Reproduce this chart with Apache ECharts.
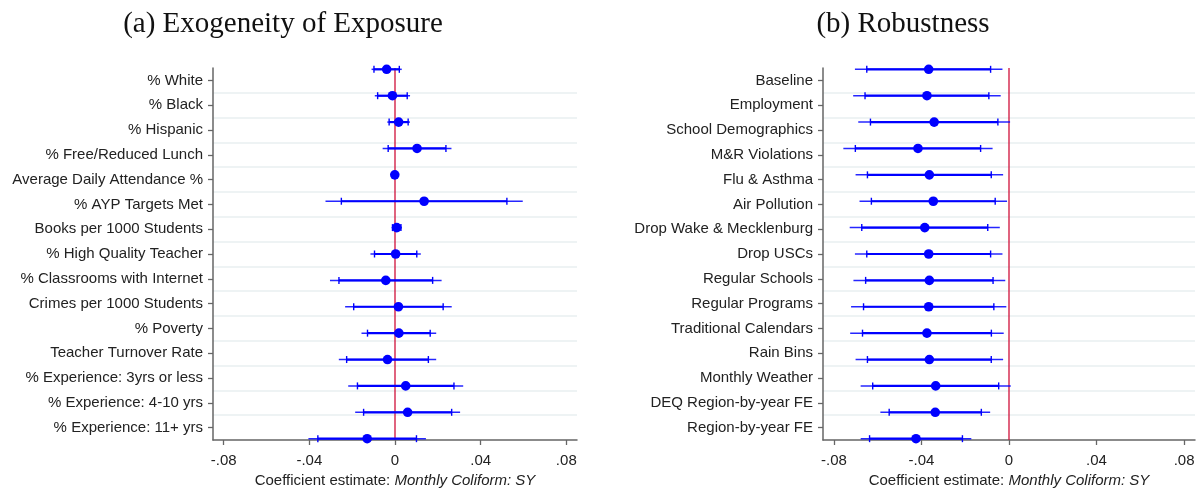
<!DOCTYPE html>
<html>
<head>
<meta charset="utf-8">
<script src="https://cdn.jsdelivr.net/npm/echarts@6/dist/echarts.min.js"></script>
<style>html,body{margin:0;padding:0;background:#fff}#c{width:1200px;height:489px}</style>
</head>
<body>
<div id="c"></div>
<script>
// Panel (a): Exogeneity of Exposure
const catsA = ['% White','% Black','% Hispanic','% Free/Reduced Lunch','Average Daily Attendance %','% AYP Targets Met','Books per 1000 Students','% High Quality Teacher','% Classrooms with Internet','Crimes per 1000 Students','% Poverty','Teacher Turnover Rate','% Experience: 3yrs or less','% Experience: 4-10 yrs','% Experience: 11+ yrs'];
const coefA = [-0.0039,-0.0012,0.0017,0.0103,-0.0001,0.0136,0.0008,0.0003,-0.0043,0.0016,0.0018,-0.0035,0.0050,0.0059,-0.0130];
const seA   = [0.0036,0.0042,0.0027,0.0082,0.0004,0.0235,0.0012,0.0060,0.0133,0.0127,0.0089,0.0116,0.0137,0.0125,0.0140];
// Panel (b): Robustness
const catsB = ['Baseline','Employment','School Demographics','M&R Violations','Flu & Asthma','Air Pollution','Drop Wake & Mecklenburg','Drop USCs','Regular Schools','Regular Programs','Traditional Calendars','Rain Bins','Monthly Weather','DEQ Region-by-year FE','Region-by-year FE'];
const coefB = [-0.0367,-0.0375,-0.0342,-0.0416,-0.0364,-0.0346,-0.0385,-0.0367,-0.0364,-0.0367,-0.0375,-0.0364,-0.0335,-0.0337,-0.0425];
const seB   = [0.0172,0.0172,0.0177,0.0174,0.0172,0.0172,0.0175,0.0172,0.0177,0.0181,0.0179,0.0172,0.0175,0.0128,0.0129];
const xTicks = [-0.08,-0.04,0,0.04,0.08];
const xTickLabels = ['-.08','-.04','0','.04','.08'];
const titles = ['(a) Exogeneity of Exposure','(b) Robustness'];

const chart = echarts.init(document.getElementById('c'));
const sans = 'Liberation Sans, Arial, sans-serif';
const blue = '#0000ff';

function renderItem(params, api){
  const b = api.value(0), i = api.value(1), se = api.value(2);
  const p = api.coord([b, i]);
  const l95 = api.coord([b - 1.96*se, i]), h95 = api.coord([b + 1.96*se, i]);
  const l90 = api.coord([b - 1.645*se, i]), h90 = api.coord([b + 1.645*se, i]);
  const y = p[1];
  return {type:'group', children:[
    {type:'line', shape:{x1:l95[0], y1:y, x2:h95[0], y2:y}, style:{stroke:blue, lineWidth:1.5, opacity:0.85}},
    {type:'line', shape:{x1:l90[0], y1:y, x2:h90[0], y2:y}, style:{stroke:blue, lineWidth:2.2}},
    {type:'line', shape:{x1:l90[0], y1:y-3.5, x2:l90[0], y2:y+3.5}, style:{stroke:blue, lineWidth:1.4}},
    {type:'line', shape:{x1:h90[0], y1:y-3.5, x2:h90[0], y2:y+3.5}, style:{stroke:blue, lineWidth:1.4}},
    {type:'circle', shape:{cx:p[0], cy:y, r:4.8}, style:{fill:blue}}
  ]};
}

const grids = [
  {left:213, top:68, width:364, height:372, containLabel:false, outerBoundsMode:'none'},
  {left:823, top:68, width:372, height:372, containLabel:false, outerBoundsMode:'none'}
];
const xAxes = [], yAxes = [], series = [];
[[catsA,coefA,seA],[catsB,coefB,seB]].forEach(([cats,coef,se], g) => {
  xAxes.push({
    type:'value', gridIndex:g, min:-0.085, max:0.085,
    splitLine:{show:false},
    axisLine:{show:true, onZero:false, lineStyle:{color:'#666', width:1.5}},
    axisTick:{show:true, length:5, customValues:xTicks, lineStyle:{color:'#666', width:1.3}},
    axisLabel:{customValues:xTicks, formatter:v => xTickLabels[xTicks.findIndex(t => Math.abs(t-v)<1e-9)], color:'#222', fontFamily:sans, fontSize:15, margin:13},
    name:'{n|Coefficient estimate: }{i|Monthly Coliform: SY}', nameLocation:'middle', nameGap:31,
    nameTextStyle:{rich:{n:{fontFamily:sans, fontSize:15, color:'#222'}, i:{fontFamily:sans, fontSize:15, fontStyle:'italic', color:'#222'}}}
  });
  yAxes.push({
    type:'category', gridIndex:g, data:cats, inverse:true, boundaryGap:true,
    axisLine:{show:true, onZero:false, lineStyle:{color:'#666', width:1.5}},
    axisTick:{show:true, alignWithLabel:true, length:5, lineStyle:{color:'#666', width:1.3}},
    axisLabel:{color:'#222', fontFamily:sans, fontSize:15, margin:10},
    splitLine:{show:true, showMinLine:false, showMaxLine:false, lineStyle:{color:'#e8eff1', width:1.5}}
  });
  yAxes.push({type:'value', gridIndex:g, inverse:true, min:-0.05, max:14.05, show:false});
  const yIdx = yAxes.length - 1;
  series.push({
    type:'line', xAxisIndex:g, yAxisIndex:yIdx, data:[[0,-0.05],[0,14.05]], symbol:'none', silent:true,
    lineStyle:{color:'#d0103a', width:1.3}, z:1
  });
  series.push({
    type:'custom', xAxisIndex:g, yAxisIndex:yIdx, renderItem, z:2,
    encode:{x:0, y:1},
    data: coef.map((c, i) => [c, i, se[i]])
  });
});

chart.setOption({
  animation:false,
  backgroundColor:'#fff',
  grid:grids, xAxis:xAxes, yAxis:yAxes, series,
  graphic:[
    {type:'text', x:283, y:10, style:{text:titles[0], font:'29px "Liberation Serif", "Times New Roman", serif', fill:'#111', textAlign:'center'}},
    {type:'text', x:903, y:10, style:{text:titles[1], font:'29px "Liberation Serif", "Times New Roman", serif', fill:'#111', textAlign:'center'}}
  ]
});
</script>
</body>
</html>
